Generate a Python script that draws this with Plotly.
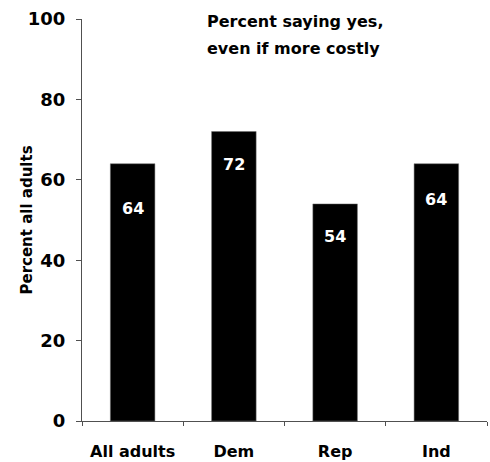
import plotly.graph_objects as go

categories = ["All adults", "Dem", "Rep", "Ind"]
values = [64, 72, 54, 64]
y_ticks = [0, 20, 40, 60, 80, 100]
title_lines = ["Percent saying yes,", "even if more costly"]
y_title = "Percent all adults"

# pixel offsets of the value labels below each bar top (styling)
label_shift = [-45, -33, -33, -36]

FONT = "DejaVu Sans"
AXIS = "#505050"

fig = go.Figure()
fig.add_trace(go.Bar(
    x=categories, y=values,
    marker=dict(color="black", line=dict(color="#707070", width=0.5)),
    width=0.44,
    hoverinfo="skip",
))

for c, v, s in zip(categories, values, label_shift):
    fig.add_annotation(x=c, y=v, text=f"<b>{v}</b>", showarrow=False,
                       yshift=s, yanchor="middle",
                       font=dict(family=FONT, size=16, color="white"))

fig.add_annotation(xref="paper", yref="paper", x=0.3037, y=0.995,
                   xanchor="left", yanchor="middle", showarrow=False,
                   text=f"<b>{title_lines[0]}</b>",
                   font=dict(family=FONT, size=16, color="black"))
fig.add_annotation(xref="paper", yref="paper", x=0.3037, y=0.926,
                   xanchor="left", yanchor="middle", showarrow=False,
                   text=f"<b>{title_lines[1]}</b>",
                   font=dict(family=FONT, size=16, color="black"))

# y-axis title
fig.add_annotation(xref="paper", yref="paper", x=-0.137, y=0.5,
                   xanchor="center", yanchor="middle", showarrow=False,
                   textangle=-90, text=f"<b>{y_title}</b>",
                   font=dict(family=FONT, size=15, color="black"))

fig.update_layout(
    width=490, height=462,
    margin=dict(l=82, r=3, t=19, b=41, autoexpand=False),
    paper_bgcolor="white", plot_bgcolor="white",
    showlegend=False,
    font=dict(family=FONT, color="black"),
)
fig.update_xaxes(
    type="category", range=[-0.5, 3.5],
    showline=True, linecolor=AXIS, linewidth=1,
    ticks="outside", ticklen=4, tickcolor=AXIS, tickwidth=1,
    tickson="boundaries",
    tickfont=dict(family=FONT, size=16, color="black"),
    ticklabelstandoff=16,
    tickvals=categories, ticktext=[f"<b>{c}</b>" for c in categories],
    showgrid=False, zeroline=False,
)
fig.update_yaxes(
    range=[0, 100], tickvals=y_ticks, ticktext=[f"<b>{t}</b>" for t in y_ticks],
    showline=True, linecolor=AXIS, linewidth=1,
    ticks="outside", ticklen=5, tickcolor=AXIS, tickwidth=1,
    tickfont=dict(family=FONT, size=18, color="black"),
    ticklabelstandoff=7,
    showgrid=False, zeroline=False,
)

fig.write_html("out.html",
               config={"displayModeBar": False},
               post_script="document.body.style.margin='0';document.body.style.overflow='hidden';")
